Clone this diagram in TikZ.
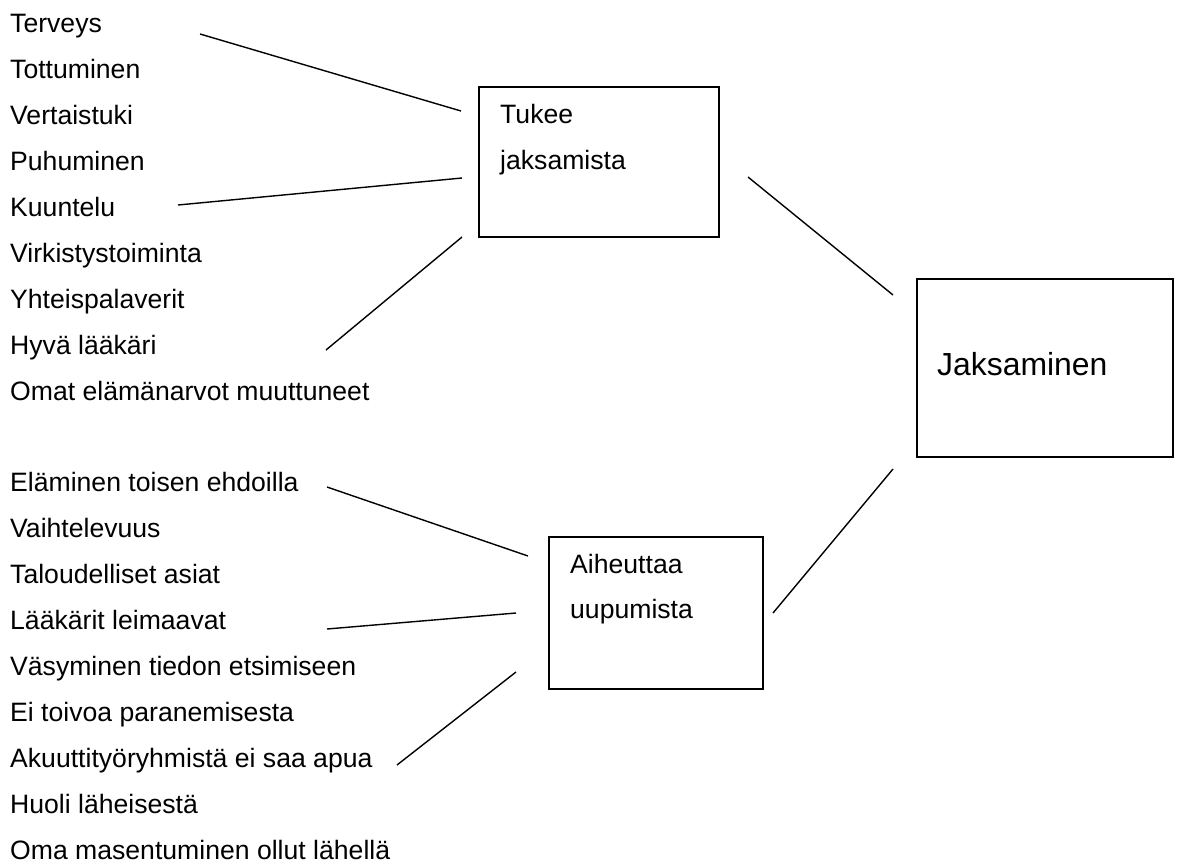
\documentclass[tikz,border=0pt]{standalone}
\usepackage{fontspec}
\setmainfont{Liberation Sans}
\begin{document}
\begin{tikzpicture}[x=1pt,y=-1pt,
  item/.style={anchor=base west,inner sep=0pt,font=\fontsize{26.6}{32}\selectfont},
  big/.style={anchor=base west,inner sep=0pt,font=\fontsize{31.9}{38}\selectfont},
  box/.style={draw,line width=1.7pt,rectangle,inner sep=0pt},
  conn/.style={line width=1.4pt}]
\fill[white] (0,0) rectangle (1178,863);
\useasboundingbox (0,0) rectangle (1178,863);
% upper list
\node[item] (t1) at (10,32) {Terveys};
\node[item] (t2) at (10,78) {Tottuminen};
\node[item] (t3) at (10,124) {Vertaistuki};
\node[item] (t4) at (10,170) {Puhuminen};
\node[item] (t5) at (10,216) {Kuuntelu};
\node[item] (t6) at (10,262) {Virkistystoiminta};
\node[item] (t7) at (10,308) {Yhteispalaverit};
\node[item] (t8) at (10,354) {Hyvä lääkäri};
\node[item] (t9) at (10,400) {Omat elämänarvot muuttuneet};
% lower list
\node[item] (b1) at (10,491) {Eläminen toisen ehdoilla};
\node[item] (b2) at (10,537) {Vaihtelevuus};
\node[item] (b3) at (10,583) {Taloudelliset asiat};
\node[item] (b4) at (10,629) {Lääkärit leimaavat};
\node[item] (b5) at (10,675) {Väsyminen tiedon etsimiseen};
\node[item] (b6) at (10,721) {Ei toivoa paranemisesta};
\node[item] (b7) at (10,767) {Akuuttityöryhmistä ei saa apua};
\node[item] (b8) at (10,813) {Huoli läheisestä};
\node[item] (b9) at (10,859) {Oma masentuminen ollut lähellä};
% boxes
\node[box,minimum width=240pt,minimum height=150pt] (tukee) at (599,162) {};
\node[item] (tukeeA) at (500,123) {Tukee};
\node[item] (tukeeB) at (500,169) {jaksamista};
\node[box,minimum width=256pt,minimum height=178pt] (jaks) at (1045,368) {};
\node[big] (jaksT) at (937,375) {Jaksaminen};
\node[box,minimum width=214pt,minimum height=152pt] (aih) at (656,613) {};
\node[item] (aihA) at (570,573) {Aiheuttaa};
\node[item] (aihB) at (570,618) {uupumista};
% connector ends
\coordinate (c1a) at (200,34);  \coordinate (c1b) at (461,111);
\coordinate (c2a) at (178,205); \coordinate (c2b) at (462,178);
\coordinate (c3a) at (326,350); \coordinate (c3b) at (462,237);
\coordinate (c4a) at (748,177); \coordinate (c4b) at (893,295);
\coordinate (c5a) at (773,613); \coordinate (c5b) at (893,469);
\coordinate (c6a) at (327,487); \coordinate (c6b) at (528,556);
\coordinate (c7a) at (327,629); \coordinate (c7b) at (516,613);
\coordinate (c8a) at (397,765); \coordinate (c8b) at (516,672);
\draw[conn] (c1a) -- (c1b);
\draw[conn] (c2a) -- (c2b);
\draw[conn] (c3a) -- (c3b);
\draw[conn] (c4a) -- (c4b);
\draw[conn] (c5a) -- (c5b);
\draw[conn] (c6a) -- (c6b);
\draw[conn] (c7a) -- (c7b);
\draw[conn] (c8a) -- (c8b);
\end{tikzpicture}
\end{document}
